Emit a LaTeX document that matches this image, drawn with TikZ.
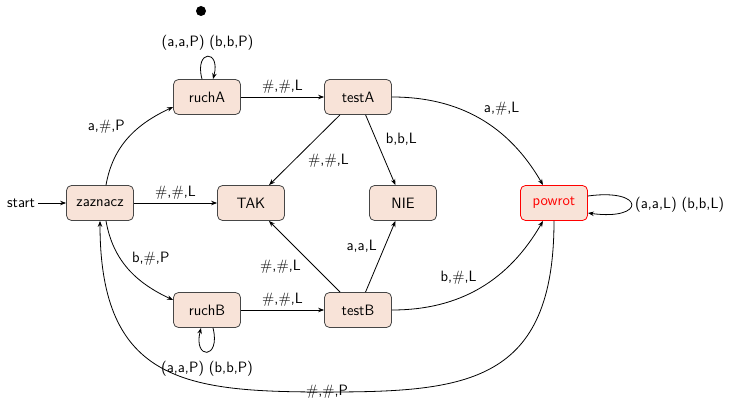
\documentclass[tikz,border=0pt]{standalone}
\usepackage{fontspec}
\usetikzlibrary{arrows.meta}
\definecolor{stanfill}{RGB}{248,227,216}
\definecolor{stanbrzeg}{RGB}{70,70,70}
\begin{document}
\begin{tikzpicture}[x=1pt, y=1pt, font=\sffamily\fontsize{15}{18}\selectfont,
        stan/.style={rectangle, rounded corners=5pt, draw=stanbrzeg, fill=stanfill,
            minimum width=67pt, minimum height=35pt, line width=0.8pt},
        przejscie/.style={-{Stealth[length=6pt,width=4.5pt]}, line width=0.8pt}]
    \useasboundingbox (0,0) rectangle (730,399);

        \draw (100, 196) node[stan](zaznacz){zaznacz}
       (207, 302) node[stan](ruchA){ruchA}
       (358, 302) node[stan](testA){testA}
       (251, 196) node[stan](tak){TAK}
       (403, 196) node[stan](nie){NIE}
       (554, 196) node[stan, draw=red, text=red](powrot){powrot}
       (207, 89) node[stan](ruchB){ruchB}
       (358, 89) node[stan](testB){testB}
       (21, 196) node(start){start}
       (201, 388) node[circle, fill, inner sep=0pt, minimum size=10pt](kropka){};
       \coordinate (dol) at (327, 7);

       \draw[przejscie] (start) -- (zaznacz);
       \draw[przejscie] ([xshift=6pt]zaznacz.north) to[out=80, in=205]
            node[midway, above left] {a,\#,P} ([yshift=-10pt]ruchA.west);
       \draw[przejscie] ([xshift=6pt]zaznacz.south) to[out=-80, in=155]
            node[midway, above right] {b,\#,P} ([yshift=10pt]ruchB.west);
       \draw[przejscie] (zaznacz) -- node[above] {\#,\#,L} (tak);
       \draw[przejscie] (ruchA) -- node[above] {\#,\#,L} (testA);
       \draw[przejscie] (ruchB) -- node[above] {\#,\#,L} (testB);
       \draw[przejscie] (testA) -- node[below right] {\#,\#,L} (tak);
       \draw[przejscie] (testA) -- node[pos=0.35, right=6pt] {b,b,L} (nie);
       \draw[przejscie] (testB) -- node[below left] {\#,\#,L} (tak);
       \draw[przejscie] (testB) -- node[above left] {a,a,L} (nie);
       \draw[przejscie] (testA.east) to[out=0, in=120]
            node[midway, above right] {a,\#,L} ([xshift=-11pt]powrot.north);
       \draw[przejscie] (testB.east) to[out=0, in=-120]
            node[midway, above left] {b,\#,L} ([xshift=-11pt]powrot.south);
       \draw[przejscie] (powrot.south) .. controls +(0,-162) and +(140,0) .. (dol)
            node {\#,\#,P} .. controls +(-140,0) and +(0,-162) .. (zaznacz.south);

       % petle
       \draw[przejscie] ([xshift=-5pt]ruchA.north) .. controls +(-8,30) and +(8,30) ..
            node[above=3pt] {(a,a,P) (b,b,P)} ([xshift=6pt]ruchA.north);
       \draw[przejscie] ([xshift=6pt]ruchB.south) .. controls +(8,-32) and +(-8,-32) ..
            node[below=6pt] {(a,a,P) (b,b,P)} ([xshift=-6pt]ruchB.south);
       \draw[przejscie] ([yshift=7pt]powrot.east) .. controls +(58,8) and +(58,-8) ..
            node[right] {(a,a,L) (b,b,L)} ([yshift=-10pt]powrot.east);
    \end{tikzpicture}
\end{document}
